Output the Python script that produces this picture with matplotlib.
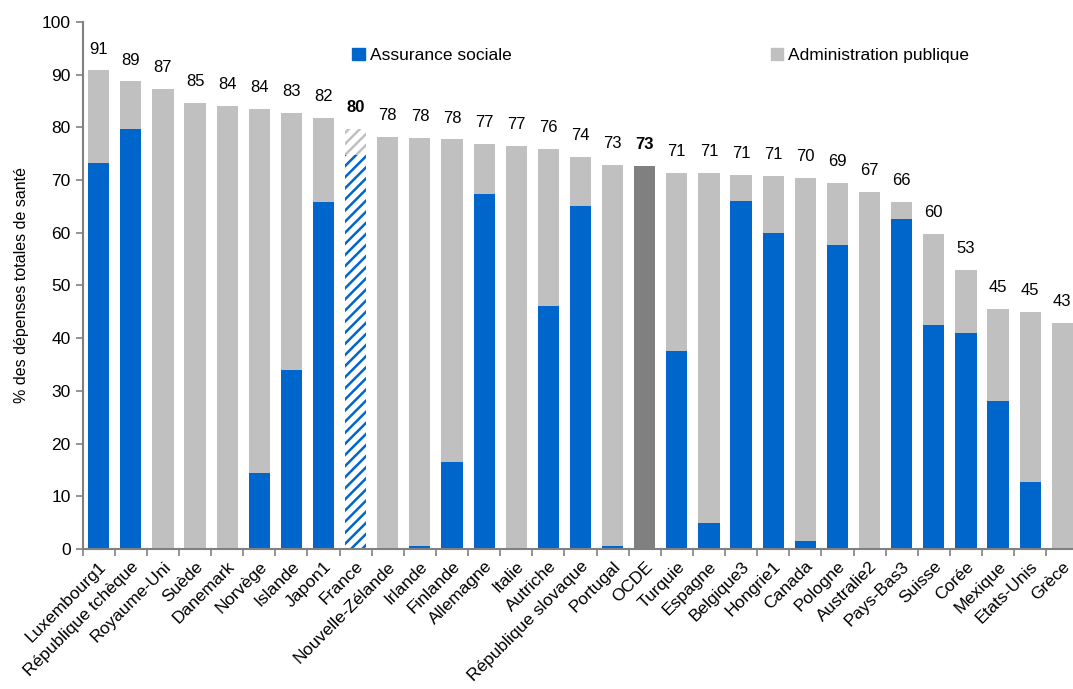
import numpy as np
import matplotlib
matplotlib.use("Agg")
import matplotlib.pyplot as plt
from matplotlib.patches import Patch

plt.rcParams['font.family'] = ['Liberation Sans', 'DejaVu Sans']

# Part des dépenses de santé : assurance sociale / administration publique
pays = ['Luxembourg1', 'République tchèque', 'Royaume-Uni', 'Suède', 'Danemark',
        'Norvège', 'Islande', 'Japon1', 'France', 'Nouvelle-Zélande', 'Irlande',
        'Finlande', 'Allemagne', 'Italie', 'Autriche', 'République slovaque',
        'Portugal', 'OCDE', 'Turquie', 'Espagne', 'Belgique3', 'Hongrie1',
        'Canada', 'Pologne', 'Australie2', 'Pays-Bas3', 'Suisse', 'Corée',
        'Mexique', 'Etats-Unis', 'Grèce']
total = [90.8, 88.7, 87.2, 84.7, 84.1, 83.5, 82.7, 81.7, 79.7, 78.1, 78.0,
         77.7, 76.8, 76.4, 75.9, 74.3, 72.8, 72.6, 71.3, 71.3, 70.9, 70.7,
         70.4, 69.4, 67.7, 65.8, 59.7, 53.0, 45.5, 45.0, 42.9]
assurance = [73.2, 79.7, 0, 0, 0, 14.5, 34.0, 65.8, 74.8, 0, 0.5,
             16.5, 67.3, 0, 46.1, 65.1, 0.5, 0, 37.6, 4.9, 66.0, 60.0,
             1.5, 57.7, 0, 62.6, 42.5, 41.0, 28.1, 12.7, 0]
etiquettes = [91, 89, 87, 85, 84, 84, 83, 82, 80, 78, 78, 78, 77, 77, 76, 74,
              73, 73, 71, 71, 71, 71, 70, 69, 67, 66, 60, 53, 45, 45, 43]

bleu = '#0066CC'
gris = '#C0C0C0'
gris_fonce = '#808080'

total = np.array(total)
assurance = np.array(assurance)
admin = total - assurance
x = np.arange(len(pays))

fig = plt.figure(figsize=(10.73, 6.89), dpi=100)
ax = fig.add_axes([0.0770, 0.2032, 0.928, 0.765])

plt.rcParams['hatch.linewidth'] = 1.8
largeur = 0.66
for i in range(len(pays)):
    if pays[i] == 'OCDE':
        ax.bar(x[i], total[i], largeur, color=gris_fonce)
    elif pays[i] == 'France':
        # barre hachurée
        ax.bar(x[i], assurance[i], largeur, facecolor='white', edgecolor=bleu,
               hatch='///', linewidth=0)
        ax.bar(x[i], admin[i], largeur, bottom=assurance[i], facecolor='white',
               edgecolor=gris, hatch='///', linewidth=0)
    else:
        ax.bar(x[i], assurance[i], largeur, color=bleu)
        ax.bar(x[i], admin[i], largeur, bottom=assurance[i], color=gris)

# valeurs au-dessus des barres
for i in range(len(pays)):
    poids = 'bold' if pays[i] in ('France', 'OCDE') else 'normal'
    ax.annotate(str(etiquettes[i]), (x[i], total[i]), xytext=(0, 10),
                textcoords='offset points', ha='center', va='bottom',
                fontsize=12, fontweight=poids)

ax.set_xlim(-0.5, len(pays) - 0.5)
ax.set_ylim(0, 100)
ax.set_yticks(np.arange(0, 101, 10))
ax.tick_params(axis='y', labelsize=12.5, length=5, color='#808080', width=1.2)
ax.set_xticks(x)
ax.set_xticklabels(pays, rotation=45, ha='right', rotation_mode='anchor',
                   fontsize=12.5)
ax.tick_params(axis='x', length=0, pad=7)
ax.set_xticks(np.arange(-0.5, len(pays), 1), minor=True)
ax.tick_params(axis='x', which='minor', length=5, color='#808080', width=1.2)
ax.set_ylabel('% des dépenses totales de santé', fontsize=11.5, labelpad=9)

for s in ['top', 'right']:
    ax.spines[s].set_visible(False)
for s in ['left', 'bottom']:
    ax.spines[s].set_color('#808080')
    ax.spines[s].set_linewidth(1.5)

poignees = [Patch(color=bleu, label='Assurance sociale'),
            Patch(color=gris, label='Administration publique')]
ax.legend(handles=poignees, loc='center left', bbox_to_anchor=(0.271, 0.936),
          ncol=2, frameon=False, fontsize=12.5, handlelength=0.7,
          handleheight=0.7, handletextpad=0.3, columnspacing=14.95,
          borderpad=0, borderaxespad=0)

fig.savefig('out.png', dpi=100)
